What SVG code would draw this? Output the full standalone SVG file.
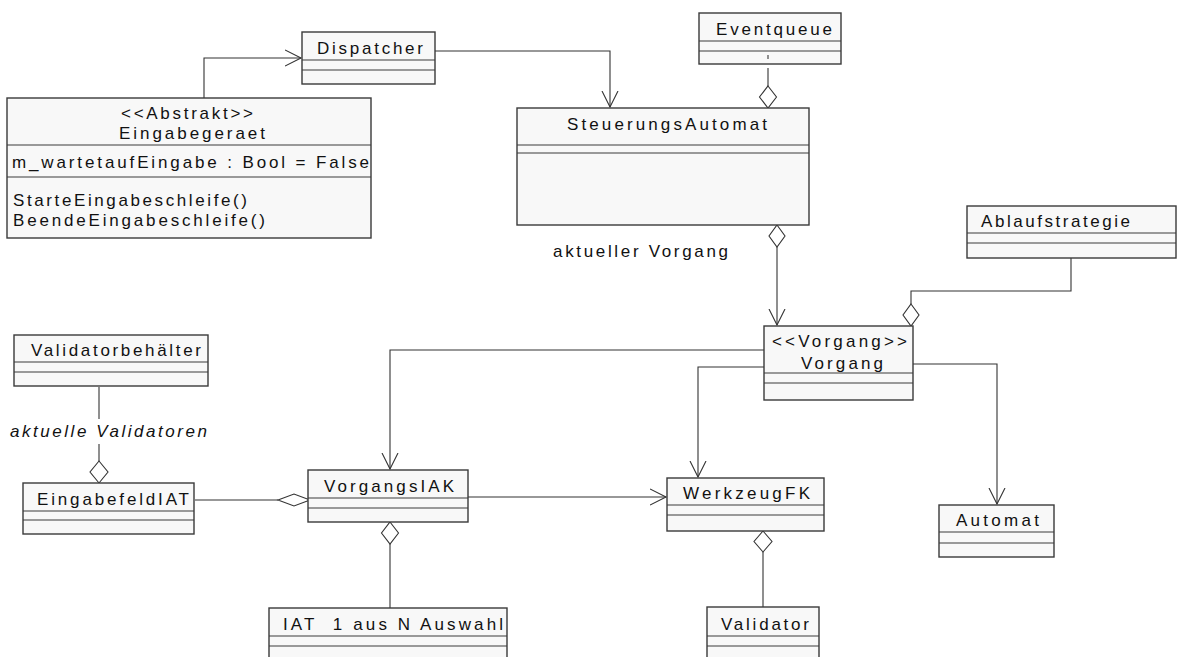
<svg xmlns="http://www.w3.org/2000/svg" width="1181" height="657" viewBox="0 0 1181 657">
<style>
.box{fill:#f8f8f8;stroke:#3a3a3a;stroke-width:1.4}
.sep{stroke:#3a3a3a;stroke-width:1.1;fill:none}
.t{font-family:"Liberation Sans",Arial,sans-serif;font-size:17px;fill:#111}
.it{font-style:italic}
.c{fill:none;stroke:#333;stroke-width:1.1}
.d{fill:#fff;stroke:#333;stroke-width:1.1}
</style>
<defs>
<marker id="open" markerUnits="userSpaceOnUse" markerWidth="20" markerHeight="20" refX="16" refY="8" orient="auto" viewBox="0 0 20 16">
<path d="M0,0 L16,8 L0,16" fill="none" stroke="#333" stroke-width="1.1"/>
</marker>
</defs>
<rect width="1181" height="657" fill="#fff"/>

<g id="connectors">
<polyline class="c" points="204,98 204,58 301,58" marker-end="url(#open)"/>
<polyline class="c" points="432,51 610,51 610,107" marker-end="url(#open)"/>
<line class="c" x1="768" y1="68" x2="768" y2="86"/>
<polygon class="d" points="768,86 776.5,97 768,108 759.5,97"/>
<polygon class="d" points="777,225 785,236 777,247 769,236"/>
<polyline class="c" points="777,247 777,325" marker-end="url(#open)"/>
<polyline class="c" points="1071,258 1071,291 911,291 911,304"/>
<polygon class="d" points="911,304 919,315 911,326 903,315"/>
<polyline class="c" points="764,350 390,350 390,469" marker-end="url(#open)"/>
<polyline class="c" points="764,367 698,367 698,477" marker-end="url(#open)"/>
<polyline class="c" points="913,364 997,364 997,504" marker-end="url(#open)"/>
<line class="c" x1="99" y1="387" x2="99" y2="419"/>
<line class="c" x1="99" y1="444" x2="99" y2="461"/>
<polygon class="d" points="99,461 108,472 99,483 90,472"/>
<line class="c" x1="195" y1="500" x2="278" y2="500"/>
<polygon class="d" points="278,500 294,494 310,500 294,506"/>
<polyline class="c" points="468,497 666,497" marker-end="url(#open)"/>
<polygon class="d" points="390,522 398.5,533 390,544 381.5,533"/>
<line class="c" x1="390" y1="544" x2="390" y2="608"/>
<polygon class="d" points="763,531 772,541.5 763,552 754,541.5"/>
<line class="c" x1="763" y1="552" x2="763" y2="607"/>
</g>

<g id="Dispatcher">
<rect class="box" x="302" y="32" width="133" height="52"/>
<line class="sep" x1="302" y1="60" x2="435" y2="60"/>
<line class="sep" x1="302" y1="70" x2="435" y2="70"/>
<text class="t" x="317" y="54" textLength="106" lengthAdjust="spacing">Dispatcher</text>
</g>

<g id="Eingabegeraet">
<rect class="box" x="7" y="98" width="364" height="140"/>
<line class="sep" x1="7" y1="145" x2="371" y2="145"/>
<line class="sep" x1="7" y1="177" x2="371" y2="177"/>
<text class="t" x="121" y="119" textLength="132" lengthAdjust="spacing">&lt;&lt;Abstrakt&gt;&gt;</text>
<text class="t" x="119" y="139" textLength="146" lengthAdjust="spacing">Eingabegeraet</text>
<text class="t" x="12" y="168" textLength="357" lengthAdjust="spacing">m_wartetaufEingabe : Bool = False</text>
<text class="t" x="13" y="206" textLength="234" lengthAdjust="spacing">StarteEingabeschleife()</text>
<text class="t" x="13" y="226" textLength="252" lengthAdjust="spacing">BeendeEingabeschleife()</text>
</g>

<g id="Eventqueue">
<rect class="box" x="699" y="13" width="142" height="51"/>
<line class="sep" x1="699" y1="41" x2="841" y2="41"/>
<line class="sep" x1="699" y1="51" x2="841" y2="51"/>
<line class="sep" x1="768" y1="55" x2="768" y2="59"/>
<text class="t" x="716" y="35" textLength="116" lengthAdjust="spacing">Eventqueue</text>
</g>

<g id="SteuerungsAutomat">
<rect class="box" x="517" y="108" width="292" height="117"/>
<line class="sep" x1="517" y1="145" x2="809" y2="145"/>
<line class="sep" x1="517" y1="153" x2="809" y2="153"/>
<text class="t" x="567" y="130" textLength="200" lengthAdjust="spacing">SteuerungsAutomat</text>
</g>

<text class="t" x="553" y="257" textLength="175" lengthAdjust="spacing">aktueller Vorgang</text>

<g id="Ablaufstrategie">
<rect class="box" x="967" y="206" width="209" height="52"/>
<line class="sep" x1="967" y1="233" x2="1176" y2="233"/>
<line class="sep" x1="967" y1="243" x2="1176" y2="243"/>
<text class="t" x="981" y="227" textLength="149" lengthAdjust="spacing">Ablaufstrategie</text>
</g>

<g id="Vorgang">
<rect class="box" x="764" y="326" width="149" height="74"/>
<line class="sep" x1="764" y1="373" x2="913" y2="373"/>
<line class="sep" x1="764" y1="383" x2="913" y2="383"/>
<text class="t" x="772" y="347" textLength="135" lengthAdjust="spacing">&lt;&lt;Vorgang&gt;&gt;</text>
<text class="t" x="801" y="369" textLength="82" lengthAdjust="spacing">Vorgang</text>
</g>

<g id="Validatorbehaelter">
<rect class="box" x="14" y="335" width="194" height="51"/>
<line class="sep" x1="14" y1="362" x2="208" y2="362"/>
<line class="sep" x1="14" y1="372" x2="208" y2="372"/>
<text class="t" x="31" y="356" textLength="170" lengthAdjust="spacing">Validatorbehälter</text>
</g>

<text class="t it" x="10" y="437" textLength="197" lengthAdjust="spacing">aktuelle Validatoren</text>

<g id="EingabefeldIAT">
<rect class="box" x="23" y="483" width="171" height="51"/>
<line class="sep" x1="23" y1="511" x2="194" y2="511"/>
<line class="sep" x1="23" y1="520" x2="194" y2="520"/>
<text class="t" x="37" y="505" textLength="152" lengthAdjust="spacing">EingabefeldIAT</text>
</g>

<g id="VorgangsIAK">
<rect class="box" x="308" y="470" width="160" height="52"/>
<line class="sep" x1="308" y1="498" x2="468" y2="498"/>
<line class="sep" x1="308" y1="508" x2="468" y2="508"/>
<text class="t" x="324" y="492" textLength="130" lengthAdjust="spacing">VorgangsIAK</text>
</g>

<g id="WerkzeugFK">
<rect class="box" x="667" y="478" width="157" height="53"/>
<line class="sep" x1="667" y1="505" x2="824" y2="505"/>
<line class="sep" x1="667" y1="515" x2="824" y2="515"/>
<text class="t" x="683" y="499" textLength="127" lengthAdjust="spacing">WerkzeugFK</text>
</g>

<g id="Automat">
<rect class="box" x="939" y="505" width="115" height="52"/>
<line class="sep" x1="939" y1="532" x2="1054" y2="532"/>
<line class="sep" x1="939" y1="543" x2="1054" y2="543"/>
<text class="t" x="956" y="526" textLength="83" lengthAdjust="spacing">Automat</text>
</g>

<g id="IAT1ausNAuswahl">
<rect class="box" x="269" y="608" width="238" height="60"/>
<line class="sep" x1="269" y1="636" x2="507" y2="636"/>
<line class="sep" x1="269" y1="646" x2="507" y2="646"/>
<text class="t" x="283" y="630" textLength="220" lengthAdjust="spacing" xml:space="preserve">IAT  1 aus N Auswahl</text>
</g>

<g id="Validator">
<rect class="box" x="707" y="607" width="112" height="60"/>
<line class="sep" x1="707" y1="636" x2="819" y2="636"/>
<line class="sep" x1="707" y1="646" x2="819" y2="646"/>
<text class="t" x="721" y="630" textLength="88" lengthAdjust="spacing">Validator</text>
</g>
</svg>
